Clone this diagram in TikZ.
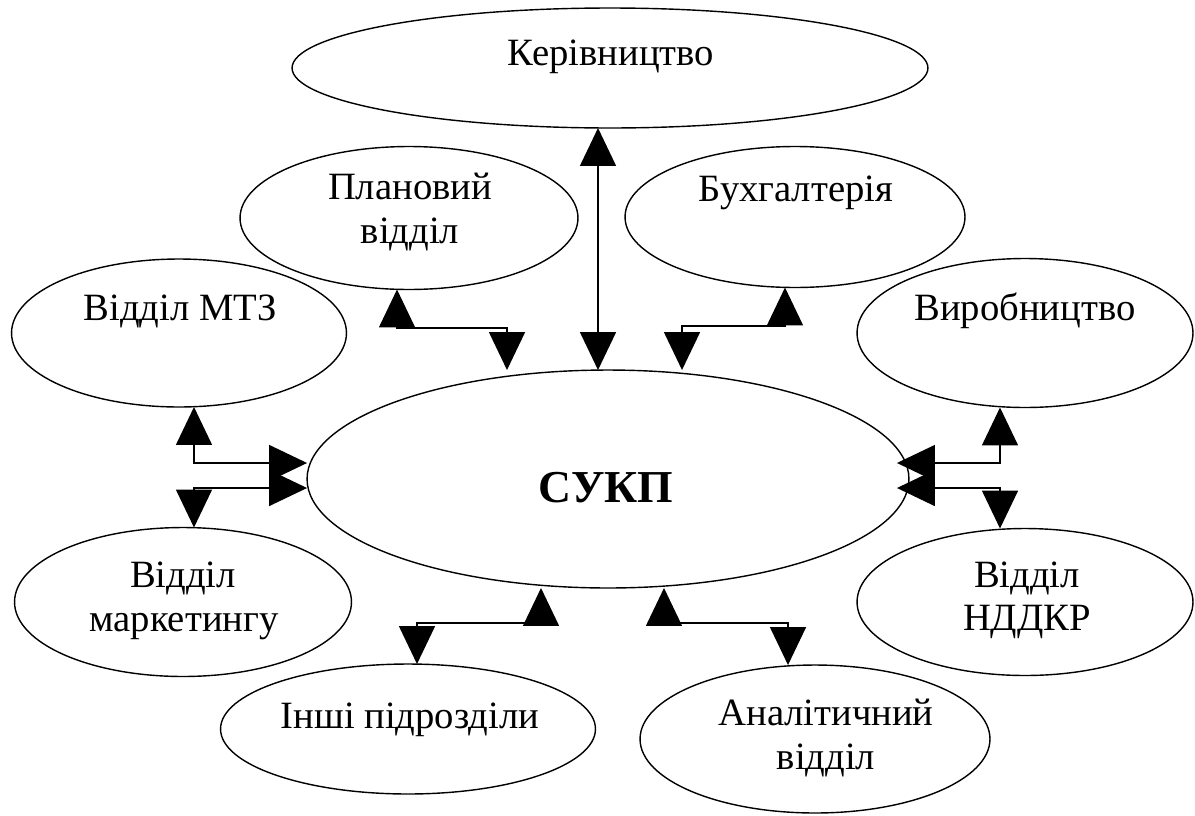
\documentclass[tikz,border=0pt]{standalone}
\usepackage{fontspec}
\setmainfont{Liberation Serif}
\usetikzlibrary{shapes.geometric,arrows.meta,calc}
\begin{document}
\begin{tikzpicture}[x=0.02cm,y=-0.02cm,
  ell/.style={draw,ellipse,line width=0.8pt,inner sep=0pt,outer sep=0pt},
  lbl/.style={anchor=base,inner sep=0pt,font=\fontsize{22}{26}\selectfont},
  big/.style={anchor=base,inner sep=0pt,font=\fontsize{26}{30}\selectfont\bfseries},
  conn/.style={line width=0.9pt,{Triangle[length=0.76cm,width=0.72cm]}-{Triangle[length=0.76cm,width=0.72cm]}}]
\useasboundingbox (0,0) rectangle (1195,815);
% ellipses
\node[ell,minimum width=12.72cm,minimum height=2.4cm] (ker) at (610,68) {};
\node[ell,minimum width=6.76cm,minimum height=2.86cm] (plan) at (409,218) {};
\node[ell,minimum width=6.8cm,minimum height=2.82cm] (buh) at (795,217) {};
\node[ell,minimum width=6.7cm,minimum height=2.96cm] (mtz) at (179,333) {};
\node[ell,minimum width=6.72cm,minimum height=2.98cm] (vyr) at (1025,333) {};
\node[ell,minimum width=12.04cm,minimum height=4.36cm] (sukp) at (608,479) {};
\node[ell,minimum width=6.74cm,minimum height=2.98cm] (mark) at (183,602) {};
\node[ell,minimum width=6.72cm,minimum height=2.94cm] (nd) at (1025,602) {};
\node[ell,minimum width=7.5cm,minimum height=2.6cm] (insh) at (408,729) {};
\node[ell,minimum width=7.0cm,minimum height=2.96cm] (anal) at (815,739) {};
% labels
\node[lbl] (tker) at (611,65) {Керівництво};
\node[lbl] (tplan1) at (410,199) {Плановий};
\node[lbl] (tplan2) at (410,243) {відділ};
\node[lbl] (tbuh) at (796,201) {Бухгалтерія};
\node[lbl] (tmtz) at (180,320) {Відділ МТЗ};
\node[lbl] (tvyr) at (1025,320) {Виробництво};
\node[big] (tsukp) at (606,502) {СУКП};
\node[lbl] (tmark1) at (183,587) {Відділ};
\node[lbl] (tmark2) at (184,631) {маркетингу};
\node[lbl] (tnd1) at (1027,587) {Відділ};
\node[lbl] (tnd2) at (1027,630) {НДДКР};
\node[lbl] (tinsh) at (410,728) {Інші підрозділи};
\node[lbl] (tanal1) at (826,725) {Аналітичний};
\node[lbl] (tanal2) at (826,769) {відділ};
% bend points
\coordinate (cplan) at (397,328);
\coordinate (cplanb) at (507,328);
\coordinate (cbuh) at (785,326);
\coordinate (cbuhb) at (682,326);
\coordinate (cker) at (598,250);
\coordinate (cmtz) at (194,463);
\coordinate (cmark) at (194,488);
\coordinate (cvyr) at (1000,463);
\coordinate (cnd) at (1000,488);
\coordinate (cinsh) at (417,623);
\coordinate (cinshb) at (541,623);
\coordinate (canal) at (788,623);
\coordinate (canalb) at (664,623);
\coordinate (sukpE) at ($(sukp.east)+(-12,0)$);
% connectors
\draw[conn] (ker.south -| cker) -- (sukp.north -| cker);
\draw[conn] (plan.south -| cplan) -- (cplan) -- (cplanb) -- (sukp.north -| cplanb);
\draw[conn] (buh.south -| cbuh) -- (cbuh) -- (cbuhb) -- (sukp.north -| cbuhb);
\draw[conn] (mtz.south -| cmtz) -- (cmtz) -- (sukp.west |- cmtz);
\draw[conn] (mark.north -| cmark) -- (cmark) -- (sukp.west |- cmark);
\draw[conn] (vyr.south -| cvyr) -- (cvyr) -- (sukpE |- cvyr);
\draw[conn] (nd.north -| cnd) -- (cnd) -- (sukpE |- cnd);
\draw[conn] (sukp.south -| cinshb) -- (cinshb) -- (cinsh) -- (insh.north -| cinsh);
\draw[conn] (sukp.south -| canalb) -- (canalb) -- (canal) -- (anal.north -| canal);
\end{tikzpicture}
\end{document}
